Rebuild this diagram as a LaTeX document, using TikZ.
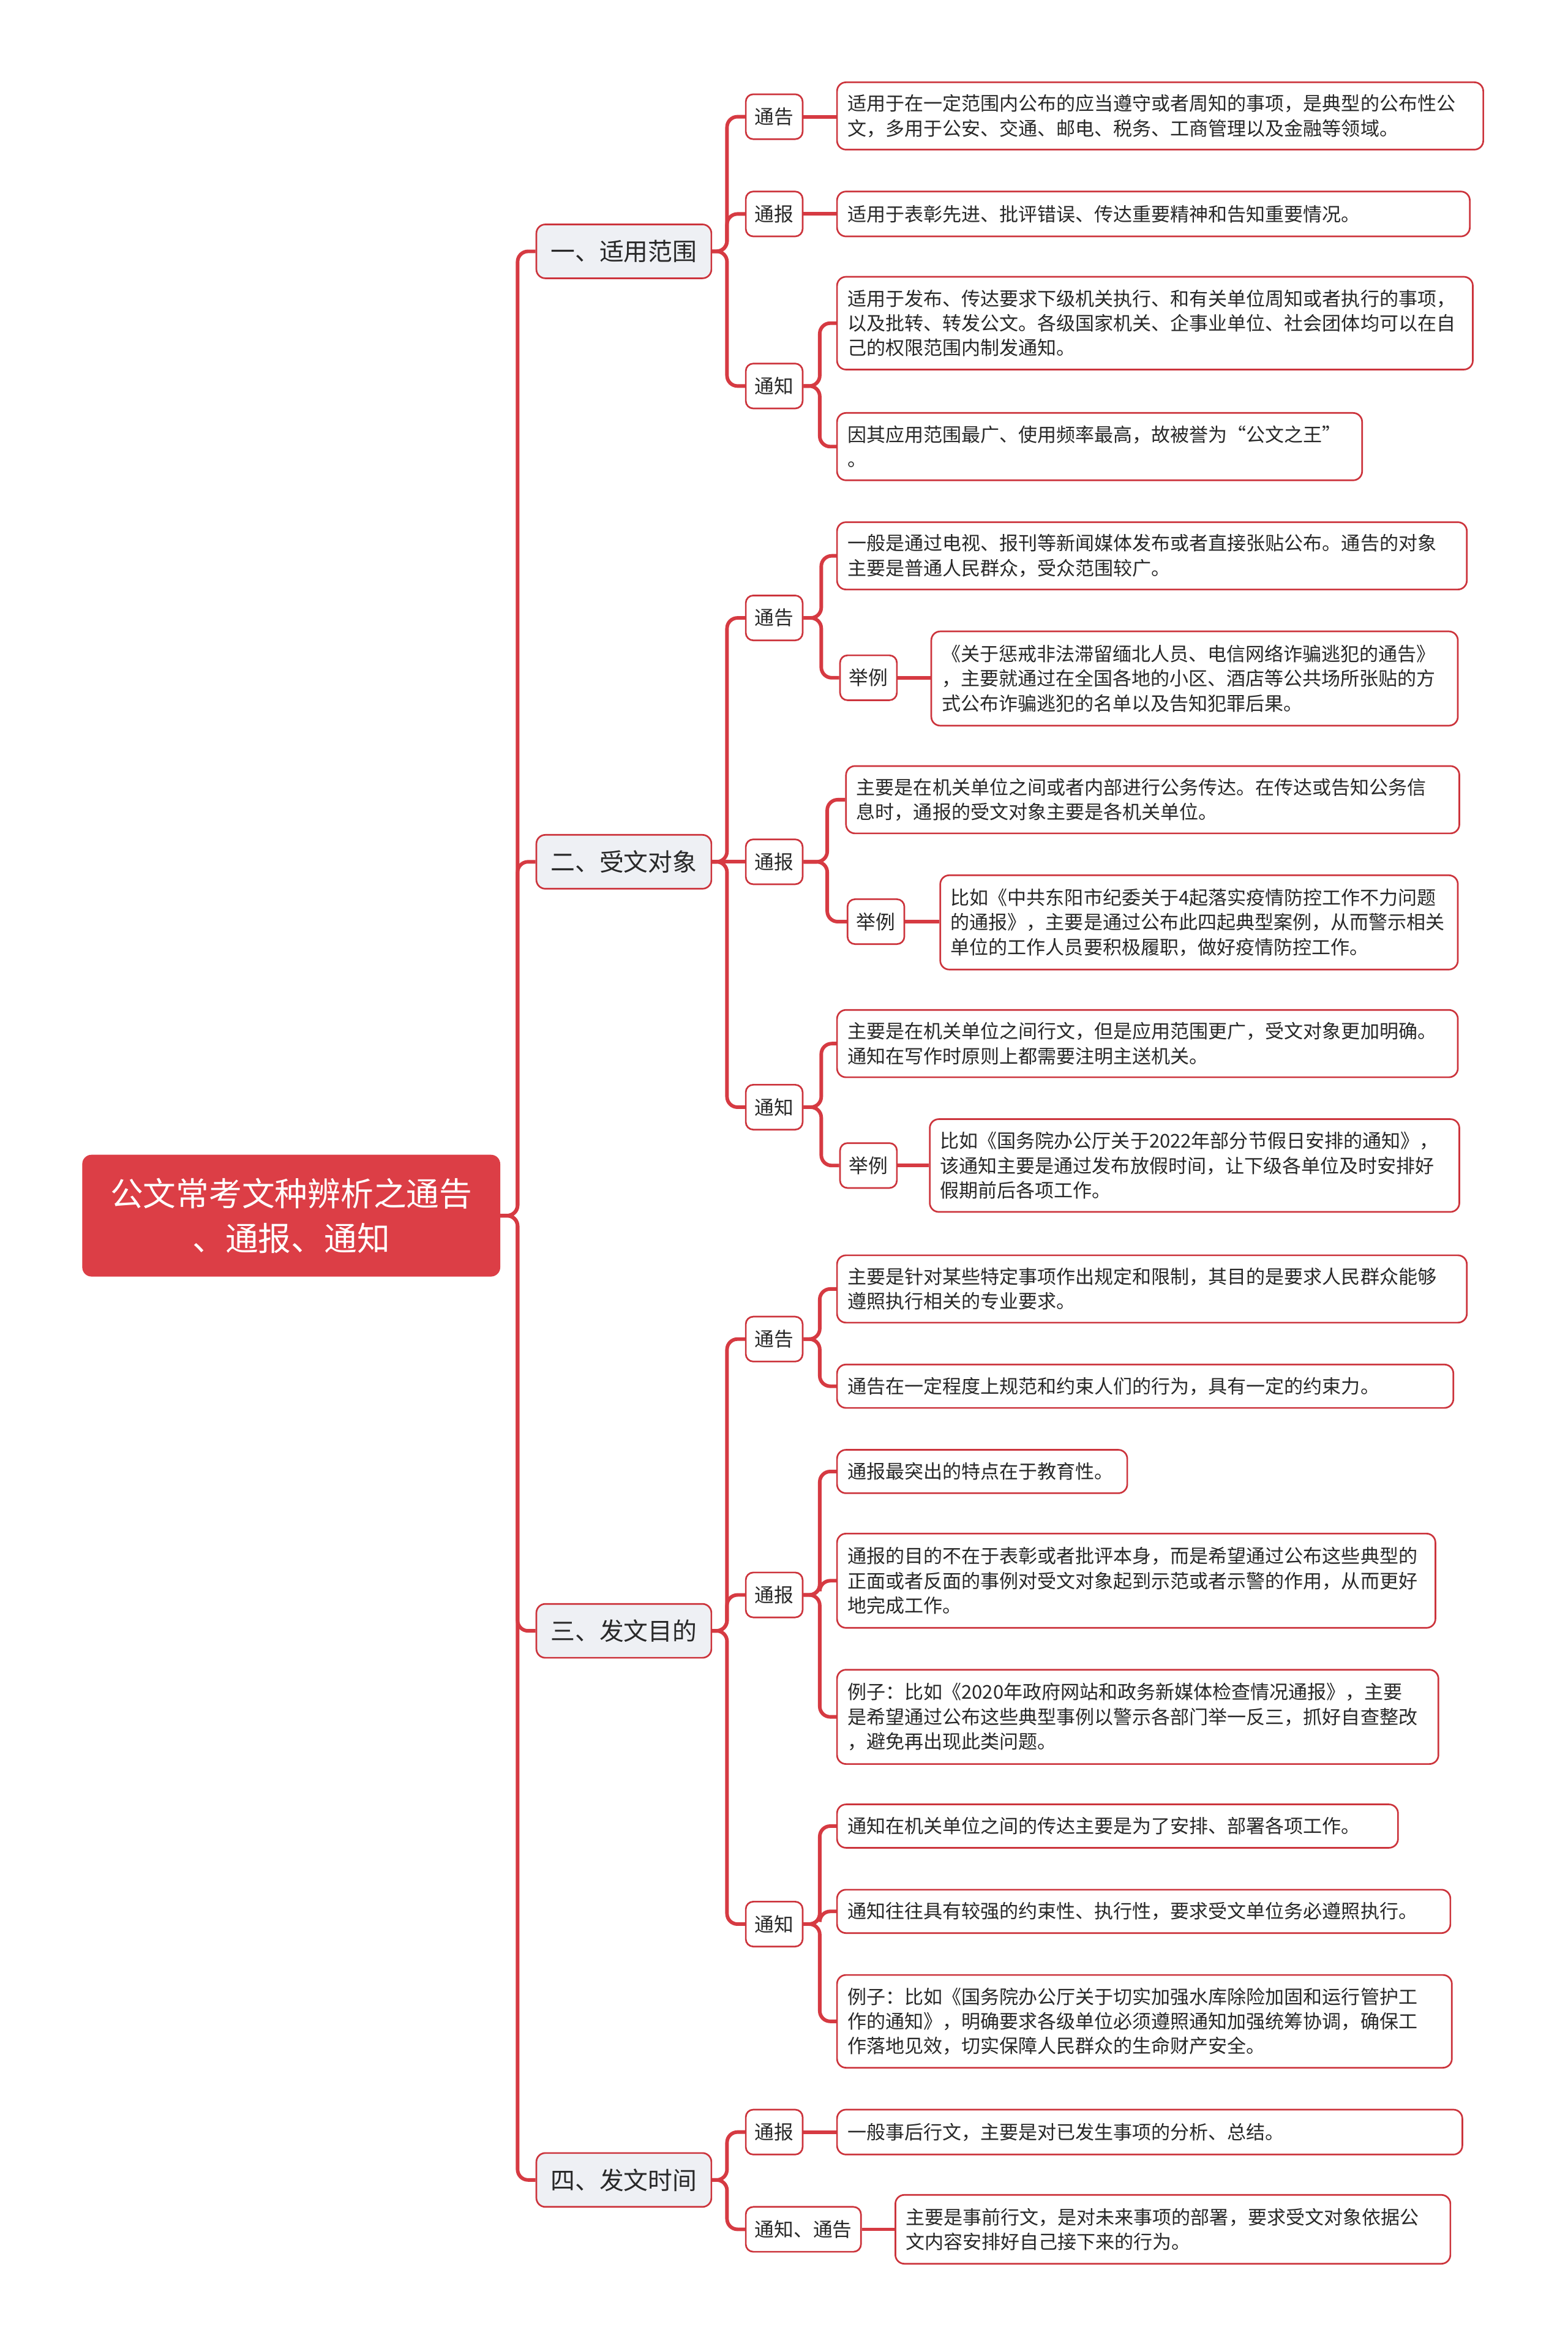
\documentclass[tikz,border=0pt]{standalone}
\usepackage{fontspec}
\setmainfont{Noto Sans CJK SC}
\definecolor{lred}{RGB}{214,58,66}
\definecolor{bred}{RGB}{204,52,60}
\definecolor{rootfill}{RGB}{220,62,70}
\definecolor{lonefill}{RGB}{238,240,244}
\definecolor{txt}{RGB}{40,40,40}
\newcommand\elb[3]{\draw[conn] (#1.east) -| (#3,0 |- #2.west) -- (#2.west);}
\newcommand\strt[2]{\draw[conn] (#1.east) -- (#1.east -| #2.west);}
\begin{document}
\begin{tikzpicture}[x=1pt,y=-1pt,
  conn/.style={draw=lred,line width=2.4pt,rounded corners=7pt},
  rootnode/.style={draw=rootfill,fill=rootfill,rounded corners=6pt,text=white,
    font=\fontsize{22}{30}\selectfont,align=center,minimum width=279pt,
    minimum height=81pt,inner sep=0pt,anchor=west},
  lvlone/.style={draw=bred,fill=lonefill,line width=1.1pt,rounded corners=6pt,text=txt,
    font=\fontsize{16.3}{20}\selectfont,minimum width=117pt,minimum height=36pt,
    inner sep=0pt,anchor=west},
  lvltwo/.style={draw=bred,fill=white,line width=1.1pt,rounded corners=5pt,text=txt,
    font=\fontsize{13}{16}\selectfont,minimum width=38pt,minimum height=30pt,
    inner xsep=6pt,inner ysep=0pt,anchor=west},
  leaf/.style={draw=bred,fill=white,line width=1.1pt,rounded corners=6pt,text=txt,
    font=\fontsize{12.7}{16.5}\selectfont,align=left,inner xsep=7pt,inner ysep=2pt,
    anchor=west}]
\useasboundingbox (0,0) rectangle (1048,1568);
\fill[white] (0,0) rectangle (1048,1568);

% root and level 1
\node[rootnode] (root) at (55,812.5) {公文常考文种辨析之通告\\、通报、通知};
\node[lvlone] (s1) at (358,168) {一、适用范围};
\node[lvlone] (s2) at (358,576) {二、受文对象};
\node[lvlone] (s3) at (358,1090) {三、发文目的};
\node[lvlone] (s4) at (358,1457) {四、发文时间};

% level 2
\node[lvltwo] (t1a) at (498,78) {通告};
\node[lvltwo] (t1b) at (498,143) {通报};
\node[lvltwo] (t1c) at (498,258) {通知};
\node[lvltwo] (t2a) at (498,413) {通告};
\node[lvltwo] (e2a) at (561,453) {举例};
\node[lvltwo] (t2b) at (498,576) {通报};
\node[lvltwo] (e2b) at (566,616) {举例};
\node[lvltwo] (t2c) at (498,740) {通知};
\node[lvltwo] (e2c) at (561,779) {举例};
\node[lvltwo] (t3a) at (498,895) {通告};
\node[lvltwo] (t3b) at (498,1066) {通报};
\node[lvltwo] (t3c) at (498,1286) {通知};
\node[lvltwo] (t4a) at (498,1425) {通报};
\node[lvltwo] (t4b) at (498,1490) {通知、通告};

% leaves
\node[leaf,text width=418pt,minimum height=45pt] (l1a) at (559,77.5) {适用于在一定范围内公布的应当遵守或者周知的事项，是典型的公布性公\\文，多用于公安、交通、邮电、税务、工商管理以及金融等领域。};
\node[leaf,text width=409pt,minimum height=30pt] (l1b) at (559,143) {适用于表彰先进、批评错误、传达重要精神和告知重要情况。};
\node[leaf,text width=411pt,minimum height=62pt] (l1c) at (559,216) {适用于发布、传达要求下级机关执行、和有关单位周知或者执行的事项，\\以及批转、转发公文。各级国家机关、企事业单位、社会团体均可以在自\\己的权限范围内制发通知。};
\node[leaf,text width=337pt,minimum height=45pt] (l1d) at (559,298.5) {因其应用范围最广、使用频率最高，故被誉为“公文之王”\\。};

\node[leaf,text width=407pt,minimum height=45pt] (l2a) at (559,371.5) {一般是通过电视、报刊等新闻媒体发布或者直接张贴公布。通告的对象\\主要是普通人民群众，受众范围较广。};
\node[leaf,text width=338pt,minimum height=63pt] (l2b) at (622,453.5) {《关于惩戒非法滞留缅北人员、电信网络诈骗逃犯的通告》\\，主要就通过在全国各地的小区、酒店等公共场所张贴的方\\式公布诈骗逃犯的名单以及告知犯罪后果。};
\node[leaf,text width=396pt,minimum height=45pt] (l2c) at (565,534.5) {主要是在机关单位之间或者内部进行公务传达。在传达或告知公务信\\息时，通报的受文对象主要是各机关单位。};
\node[leaf,text width=332pt,minimum height=63pt] (l2d) at (628,616.5) {比如《中共东阳市纪委关于4起落实疫情防控工作不力问题\\的通报》，主要是通过公布此四起典型案例，从而警示相关\\单位的工作人员要积极履职，做好疫情防控工作。};
\node[leaf,text width=401pt,minimum height=45pt] (l2e) at (559,697.5) {主要是在机关单位之间行文，但是应用范围更广，受文对象更加明确。\\通知在写作时原则上都需要注明主送机关。};
\node[leaf,text width=340pt,minimum height=62pt] (l2f) at (621,779) {比如《国务院办公厅关于2022年部分节假日安排的通知》，\\该通知主要是通过发布放假时间，让下级各单位及时安排好\\假期前后各项工作。};

\node[leaf,text width=407pt,minimum height=45pt] (l3a) at (559,861.5) {主要是针对某些特定事项作出规定和限制，其目的是要求人民群众能够\\遵照执行相关的专业要求。};
\node[leaf,text width=398pt,minimum height=29pt] (l3b) at (559,926.5) {通告在一定程度上规范和约束人们的行为，具有一定的约束力。};
\node[leaf,text width=180pt,minimum height=29pt] (l3c) at (559,983.5) {通报最突出的特点在于教育性。};
\node[leaf,text width=386pt,minimum height=63pt] (l3d) at (559,1056.5) {通报的目的不在于表彰或者批评本身，而是希望通过公布这些典型的\\正面或者反面的事例对受文对象起到示范或者示警的作用，从而更好\\地完成工作。};
\node[leaf,text width=388pt,minimum height=63pt] (l3e) at (559,1147.5) {例子：比如《2020年政府网站和政务新媒体检查情况通报》，主要\\是希望通过公布这些典型事例以警示各部门举一反三，抓好自查整改\\，避免再出现此类问题。};
\node[leaf,text width=361pt,minimum height=29pt] (l3f) at (559,1220.5) {通知在机关单位之间的传达主要是为了安排、部署各项工作。};
\node[leaf,text width=396pt,minimum height=29pt] (l3g) at (559,1277.5) {通知往往具有较强的约束性、执行性，要求受文单位务必遵照执行。};
\node[leaf,text width=397pt,minimum height=62pt] (l3h) at (559,1351) {例子：比如《国务院办公厅关于切实加强水库除险加固和运行管护工\\作的通知》，明确要求各级单位必须遵照通知加强统筹协调，确保工\\作落地见效，切实保障人民群众的生命财产安全。};

\node[leaf,text width=404pt,minimum height=30pt] (l4a) at (559,1425) {一般事后行文，主要是对已发生事项的分析、总结。};
\node[leaf,text width=357pt,minimum height=46pt] (l4b) at (598,1490) {主要是事前行文，是对未来事项的部署，要求受文对象依据公\\文内容安排好自己接下来的行为。};

% connectors
\elb{root}{s1}{346} \elb{root}{s2}{346} \elb{root}{s3}{346} \elb{root}{s4}{346}

\elb{s1}{t1a}{486} \elb{s1}{t1b}{486} \elb{s1}{t1c}{486}
\strt{t1a}{l1a} \strt{t1b}{l1b}
\elb{t1c}{l1c}{548} \elb{t1c}{l1d}{548}

\elb{s2}{t2a}{486} \strt{s2}{t2b} \elb{s2}{t2c}{486}
\elb{t2a}{l2a}{549} \elb{t2a}{e2a}{549} \strt{e2a}{l2b}
\elb{t2b}{l2c}{553} \elb{t2b}{e2b}{553} \strt{e2b}{l2d}
\elb{t2c}{l2e}{549} \elb{t2c}{e2c}{549} \strt{e2c}{l2f}

\elb{s3}{t3a}{486} \elb{s3}{t3b}{486} \elb{s3}{t3c}{486}
\elb{t3a}{l3a}{548} \elb{t3a}{l3b}{548}
\elb{t3b}{l3c}{548} \elb{t3b}{l3d}{548} \elb{t3b}{l3e}{548}
\elb{t3c}{l3f}{548} \elb{t3c}{l3g}{548} \elb{t3c}{l3h}{548}

\elb{s4}{t4a}{486} \elb{s4}{t4b}{486}
\strt{t4a}{l4a} \strt{t4b}{l4b}
\end{tikzpicture}
\end{document}
